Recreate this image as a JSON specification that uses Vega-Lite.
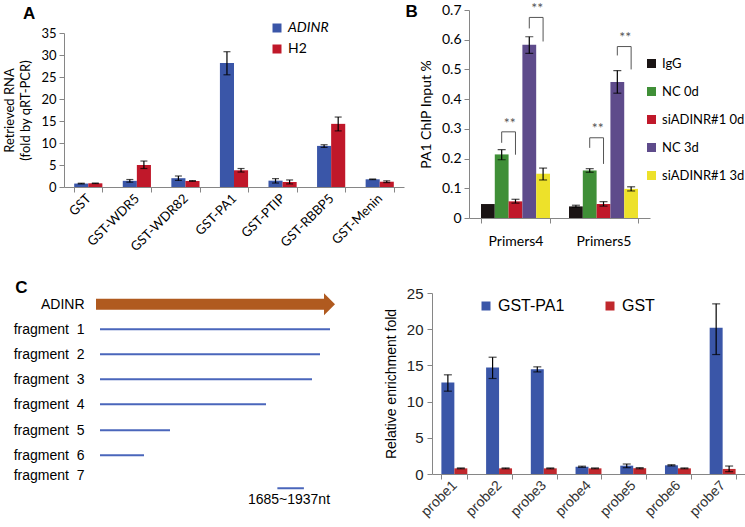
{
  "$schema": "https://vega.github.io/schema/vega-lite/v6.json",
  "padding": {"left": 3, "top": 1, "right": 0, "bottom": 0},
  "background": "white",
  "config": {
    "view": {"stroke": null},
    "axis": {"grid": false, "domainColor": "#868686", "tickColor": "#868686", "labelColor": "#000", "titleColor": "#000", "titleFontWeight": "normal", "labelOverlap": false},
    "legend": {"labelColor": "#000"}
  },
  "resolve": {"scale": {"color": "independent", "xOffset": "independent"}, "legend": {"color": "independent"}},
  "datasets": {
    "a": [
      {"cat": "GST", "series": "ADINR", "v": 0.78, "lo": 0.70, "hi": 0.86},
      {"cat": "GST", "series": "H2", "v": 0.84, "lo": 0.78, "hi": 0.90},
      {"cat": "GST-WDR5", "series": "ADINR", "v": 1.4, "lo": 1.1, "hi": 1.7},
      {"cat": "GST-WDR5", "series": "H2", "v": 5.0, "lo": 4.2, "hi": 5.9},
      {"cat": "GST-WDR82", "series": "ADINR", "v": 2.0, "lo": 1.5, "hi": 2.5},
      {"cat": "GST-WDR82", "series": "H2", "v": 1.37, "lo": 1.3, "hi": 1.45},
      {"cat": "GST-PA1", "series": "ADINR", "v": 28.2, "lo": 25.5, "hi": 30.75},
      {"cat": "GST-PA1", "series": "H2", "v": 3.8, "lo": 3.4, "hi": 4.2},
      {"cat": "GST-PTIP", "series": "ADINR", "v": 1.44, "lo": 0.9, "hi": 1.9},
      {"cat": "GST-PTIP", "series": "H2", "v": 1.14, "lo": 0.7, "hi": 1.6},
      {"cat": "GST-RBBP5", "series": "ADINR", "v": 9.34, "lo": 9.0, "hi": 9.6},
      {"cat": "GST-RBBP5", "series": "H2", "v": 14.35, "lo": 12.75, "hi": 15.9},
      {"cat": "GST-Menin", "series": "ADINR", "v": 1.75, "lo": 1.68, "hi": 1.82},
      {"cat": "GST-Menin", "series": "H2", "v": 1.2, "lo": 1.0, "hi": 1.4}
    ],
    "b": [
      {"group": "Primers4", "series": "IgG", "v": 0.047, "lo": null, "hi": null},
      {"group": "Primers4", "series": "NC 0d", "v": 0.214, "lo": 0.196, "hi": 0.230},
      {"group": "Primers4", "series": "siADINR#1 0d", "v": 0.056, "lo": 0.050, "hi": 0.063},
      {"group": "Primers4", "series": "NC 3d", "v": 0.583, "lo": 0.554, "hi": 0.610},
      {"group": "Primers4", "series": "siADINR#1 3d", "v": 0.149, "lo": 0.128, "hi": 0.168},
      {"group": "Primers5", "series": "IgG", "v": 0.039, "lo": 0.036, "hi": 0.043},
      {"group": "Primers5", "series": "NC 0d", "v": 0.160, "lo": 0.154, "hi": 0.166},
      {"group": "Primers5", "series": "siADINR#1 0d", "v": 0.047, "lo": 0.040, "hi": 0.055},
      {"group": "Primers5", "series": "NC 3d", "v": 0.458, "lo": 0.420, "hi": 0.496},
      {"group": "Primers5", "series": "siADINR#1 3d", "v": 0.098, "lo": 0.091, "hi": 0.105}
    ],
    "bbr": [
      {"br": "P4a", "o": 1, "group": "Primers4", "series": "NC 0d", "v": 0.253},
      {"br": "P4a", "o": 2, "group": "Primers4", "series": "NC 0d", "v": 0.290},
      {"br": "P4a", "o": 3, "group": "Primers4", "series": "siADINR#1 0d", "v": 0.290},
      {"br": "P4a", "o": 4, "group": "Primers4", "series": "siADINR#1 0d", "v": 0.213},
      {"br": "P4b", "o": 1, "group": "Primers4", "series": "NC 3d", "v": 0.638},
      {"br": "P4b", "o": 2, "group": "Primers4", "series": "NC 3d", "v": 0.675},
      {"br": "P4b", "o": 3, "group": "Primers4", "series": "siADINR#1 3d", "v": 0.675},
      {"br": "P4b", "o": 4, "group": "Primers4", "series": "siADINR#1 3d", "v": 0.594},
      {"br": "P5a", "o": 1, "group": "Primers5", "series": "NC 0d", "v": 0.236},
      {"br": "P5a", "o": 2, "group": "Primers5", "series": "NC 0d", "v": 0.270},
      {"br": "P5a", "o": 3, "group": "Primers5", "series": "siADINR#1 0d", "v": 0.270},
      {"br": "P5a", "o": 4, "group": "Primers5", "series": "siADINR#1 0d", "v": 0.182},
      {"br": "P5b", "o": 1, "group": "Primers5", "series": "NC 3d", "v": 0.547},
      {"br": "P5b", "o": 2, "group": "Primers5", "series": "NC 3d", "v": 0.577},
      {"br": "P5b", "o": 3, "group": "Primers5", "series": "siADINR#1 3d", "v": 0.577},
      {"br": "P5b", "o": 4, "group": "Primers5", "series": "siADINR#1 3d", "v": 0.500}
    ],
    "bst": [
      {"group": "Primers4", "series": "NC 0d", "v": 0.317, "t": "**"},
      {"group": "Primers4", "series": "NC 3d", "v": 0.705, "t": "**"},
      {"group": "Primers5", "series": "NC 0d", "v": 0.300, "t": "**"},
      {"group": "Primers5", "series": "NC 3d", "v": 0.607, "t": "**"}
    ],
    "c": [
      {"probe": "probe1", "series": "GST-PA1", "v": 12.64, "lo": 11.44, "hi": 13.7},
      {"probe": "probe1", "series": "GST", "v": 0.78, "lo": 0.72, "hi": 0.84},
      {"probe": "probe2", "series": "GST-PA1", "v": 14.7, "lo": 13.19, "hi": 16.13},
      {"probe": "probe2", "series": "GST", "v": 0.78, "lo": 0.72, "hi": 0.84},
      {"probe": "probe3", "series": "GST-PA1", "v": 14.48, "lo": 14.1, "hi": 14.8},
      {"probe": "probe3", "series": "GST", "v": 0.78, "lo": 0.72, "hi": 0.84},
      {"probe": "probe4", "series": "GST-PA1", "v": 1.0, "lo": 0.92, "hi": 1.08},
      {"probe": "probe4", "series": "GST", "v": 0.78, "lo": 0.72, "hi": 0.84},
      {"probe": "probe5", "series": "GST-PA1", "v": 1.15, "lo": 0.87, "hi": 1.38},
      {"probe": "probe5", "series": "GST", "v": 0.8, "lo": 0.72, "hi": 0.88},
      {"probe": "probe6", "series": "GST-PA1", "v": 1.2, "lo": 1.12, "hi": 1.28},
      {"probe": "probe6", "series": "GST", "v": 0.78, "lo": 0.72, "hi": 0.84},
      {"probe": "probe7", "series": "GST-PA1", "v": 20.2, "lo": 16.5, "hi": 23.5},
      {"probe": "probe7", "series": "GST", "v": 0.7, "lo": 0.32, "hi": 1.1}
    ],
    "adinr": [{"name": "ADINR", "y": 0, "start": -38, "end": 2128, "head": 2180}],
    "frag": [
      {"name": "fragment 1", "y": 1, "start": 0, "end": 2185},
      {"name": "fragment 2", "y": 2, "start": 0, "end": 2090},
      {"name": "fragment 3", "y": 3, "start": 0, "end": 2014},
      {"name": "fragment 4", "y": 4, "start": 0, "end": 1577},
      {"name": "fragment 5", "y": 5.04, "start": 0, "end": 665},
      {"name": "fragment 6", "y": 6.04, "start": 0, "end": 418},
      {"name": "fragment 7", "y": 7.36, "start": 1685, "end": 1937}
    ],
    "fraglabel": [{"t": "1685~1937nt", "x": 1795, "y": 7.84}]
  },
  "spacing": 25,
  "vconcat": [
    {
      "spacing": 1,
      "resolve": {"scale": {"color": "independent", "xOffset": "independent"}, "legend": {"color": "independent"}},
      "hconcat": [
        {
          "width": 340,
          "height": 177,
          "title": {"text": "A", "anchor": "start", "frame": "bounds", "offset": -13, "dx": 19, "fontSize": 17, "font": "Liberation Sans", "fontWeight": "bold", "color": "#000"},
          "data": {"name": "a"},
          "encoding": {
            "x": {"field": "cat", "type": "nominal", "sort": null, "title": null,
              "scale": {"paddingInner": 0.42, "paddingOuter": 0.21},
              "axis": {"labelAngle": -45, "labelAlign": "right", "labelBaseline": "middle", "labelFontSize": 13, "labelFont": "Lato", "tickBand": "extent", "tickSize": 5, "labelPadding": 4, "labelOverlap": false}},
            "xOffset": {"field": "series", "type": "nominal", "sort": ["ADINR", "H2"]}
          },
          "layer": [
            {
              "mark": {"type": "bar"},
              "encoding": {
                "y": {"field": "v", "type": "quantitative",
                  "scale": {"domain": [0, 35], "range": [177, 23], "nice": false},
                  "axis": {"values": [0, 5, 10, 15, 20, 25, 30, 35], "tickCount": 10, "labelOverlap": false, "title": ["Retrieved RNA", "(fold by qRT-PCR)"], "titleFontSize": 13, "titleFont": "Lato", "titlePadding": 8, "titleLineHeight": 16, "labelFontSize": 13, "labelFont": "Lato", "tickSize": 5, "labelPadding": 3}},
                "color": {"field": "series", "type": "nominal",
                  "scale": {"domain": ["ADINR", "H2"], "range": ["#3A56A8", "#C0182A"]},
                  "legend": {"orient": "none", "direction": "vertical", "legendX": 206, "legendY": 11, "title": null, "symbolType": "square", "symbolSize": 81, "symbolStrokeWidth": 0, "labelFontSize": 14, "labelFont": "Lato", "rowPadding": 7, "labelFontStyle": {"expr": "datum.label == 'ADINR' ? 'italic' : 'normal'"}}}
              }
            },
            {"mark": {"type": "rule", "color": "#000", "strokeWidth": 1.2}, "encoding": {"y": {"field": "lo", "type": "quantitative"}, "y2": {"field": "hi"}}},
            {"mark": {"type": "tick", "color": "#000", "size": 7, "thickness": 1.2}, "encoding": {"y": {"field": "lo", "type": "quantitative"}}},
            {"mark": {"type": "tick", "color": "#000", "size": 7, "thickness": 1.2}, "encoding": {"y": {"field": "hi", "type": "quantitative"}}}
          ]
        },
        {
          "width": 181,
          "height": 208,
          "title": {"text": "B", "anchor": "start", "frame": "bounds", "offset": -19, "dx": -14, "fontSize": 17, "font": "Liberation Sans", "fontWeight": "bold", "color": "#000"},
          "layer": [
            {
              "data": {"name": "b"},
              "mark": {"type": "bar"},
              "encoding": {
                "x": {"field": "group", "type": "nominal", "title": null,
                  "scale": {"paddingInner": 0.216, "paddingOuter": 0.136},
                  "axis": {"labelAngle": 0, "labelFontSize": 14, "labelFont": "Lato", "tickBand": "extent", "tickSize": 5, "labelPadding": 11, "labelOverlap": false}},
                "xOffset": {"field": "series", "type": "nominal", "sort": ["IgG", "NC 0d", "siADINR#1 0d", "NC 3d", "siADINR#1 3d"]},
                "y": {"field": "v", "type": "quantitative",
                  "scale": {"domain": [0, 0.7], "nice": false},
                  "axis": {"values": [0, 0.1, 0.2, 0.3, 0.4, 0.5, 0.6, 0.7], "tickCount": 10, "labelOverlap": false, "labelExpr": "datum.value == 0 ? '0' : format(datum.value, '.1f')", "title": "PA1 ChIP Input %", "titleFontSize": 14, "titleFont": "Lato", "titlePadding": 8, "labelFontSize": 14, "labelFont": "Lato", "tickSize": 5, "labelPadding": 3}},
                "color": {"field": "series", "type": "nominal",
                  "scale": {"domain": ["IgG", "NC 0d", "siADINR#1 0d", "NC 3d", "siADINR#1 3d"], "range": ["#1A1414", "#3F8F37", "#C0182A", "#5E4B8B", "#EDE12A"]},
                  "legend": {"orient": "none", "direction": "vertical", "legendX": 176, "legendY": 47, "title": null, "symbolType": "square", "symbolSize": 81, "symbolStrokeWidth": 0, "labelFontSize": 13, "labelFont": "Lato", "rowPadding": 14, "labelOffset": 4}}
              }
            },
            {"data": {"name": "b"}, "mark": {"type": "rule", "color": "#000", "strokeWidth": 1.2}, "encoding": {"x": {"field": "group", "type": "nominal"}, "xOffset": {"field": "series", "type": "nominal", "sort": ["IgG", "NC 0d", "siADINR#1 0d", "NC 3d", "siADINR#1 3d"]}, "y": {"field": "lo", "type": "quantitative"}, "y2": {"field": "hi"}}},
            {"data": {"name": "b"}, "mark": {"type": "tick", "color": "#000", "size": 8, "thickness": 1.2}, "encoding": {"x": {"field": "group", "type": "nominal"}, "xOffset": {"field": "series", "type": "nominal", "sort": ["IgG", "NC 0d", "siADINR#1 0d", "NC 3d", "siADINR#1 3d"]}, "y": {"field": "lo", "type": "quantitative"}}},
            {"data": {"name": "b"}, "mark": {"type": "tick", "color": "#000", "size": 8, "thickness": 1.2}, "encoding": {"x": {"field": "group", "type": "nominal"}, "xOffset": {"field": "series", "type": "nominal", "sort": ["IgG", "NC 0d", "siADINR#1 0d", "NC 3d", "siADINR#1 3d"]}, "y": {"field": "hi", "type": "quantitative"}}},
            {"data": {"name": "bbr"}, "mark": {"type": "line", "color": "#555", "strokeWidth": 1}, "encoding": {"x": {"field": "group", "type": "nominal"}, "xOffset": {"field": "series", "type": "nominal", "sort": ["IgG", "NC 0d", "siADINR#1 0d", "NC 3d", "siADINR#1 3d"]}, "y": {"field": "v", "type": "quantitative"}, "detail": {"field": "br"}, "order": {"field": "o"}}},
            {"data": {"name": "bst"}, "mark": {"type": "text", "color": "#555", "fontSize": 14, "font": "Lato", "dx": 8, "baseline": "middle"}, "encoding": {"x": {"field": "group", "type": "nominal"}, "xOffset": {"field": "series", "type": "nominal", "sort": ["IgG", "NC 0d", "siADINR#1 0d", "NC 3d", "siADINR#1 3d"]}, "y": {"field": "v", "type": "quantitative"}, "text": {"field": "t"}}}
          ]
        }
      ]
    },
    {
      "spacing": 48,
      "resolve": {"scale": {"color": "independent", "xOffset": "independent"}, "legend": {"color": "independent"}},
      "hconcat": [
        {
          "width": 272,
          "height": 214,
          "title": {"text": "C", "anchor": "start", "frame": "bounds", "offset": -4, "dx": 2, "fontSize": 17, "font": "Liberation Sans", "fontWeight": "bold", "color": "#000"},
          "layer": [
            {
              "data": {"name": "adinr"},
              "mark": {"type": "rule", "color": "#B05A1F", "strokeWidth": 11, "strokeCap": "butt"},
              "encoding": {
                "x": {"field": "start", "type": "quantitative", "scale": {"domain": [-342, 2242], "nice": false, "zero": false}, "axis": null},
                "x2": {"field": "end"},
                "y": {"field": "y", "type": "quantitative",
                  "scale": {"domain": [-0.45, 8.11], "reverse": true, "nice": false, "zero": false},
                  "axis": {"values": [0, 1, 2, 3, 4, 5.04, 6.04, 6.84], "tickCount": 10, "labelOverlap": false, "labelExpr": "datum.value < 0.5 ? 'ADINR' : datum.value < 1.5 ? 'fragment\u00a0\u00a01' : datum.value < 2.5 ? 'fragment\u00a0\u00a02' : datum.value < 3.5 ? 'fragment\u00a0\u00a03' : datum.value < 4.5 ? 'fragment\u00a0\u00a04' : datum.value < 5.5 ? 'fragment\u00a0\u00a05' : datum.value < 6.5 ? 'fragment\u00a0\u00a06' : datum.value < 7.5 ? 'fragment\u00a0\u00a07' : ''", "domain": false, "ticks": false, "tickSize": 0, "labelPadding": -20, "labelFontSize": 14, "labelFont": "Liberation Sans", "labelBaseline": "middle", "title": null}}
              }
            },
            {
              "data": {"name": "adinr"},
              "mark": {"type": "point", "shape": "M -0.5 -1 L 0.5 0 L -0.5 1 Z", "size": 484, "filled": true, "color": "#B05A1F", "opacity": 1},
              "encoding": {"x": {"field": "head", "type": "quantitative"}, "y": {"field": "y", "type": "quantitative"}}
            },
            {
              "data": {"name": "frag"},
              "mark": {"type": "rule", "color": "#4A66BB", "strokeWidth": 2},
              "encoding": {"x": {"field": "start", "type": "quantitative"}, "x2": {"field": "end"}, "y": {"field": "y", "type": "quantitative"}}
            },
            {
              "data": {"name": "fraglabel"},
              "mark": {"type": "text", "fontSize": 14, "font": "Liberation Sans", "color": "#000", "baseline": "middle"},
              "encoding": {"x": {"field": "x", "type": "quantitative"}, "y": {"field": "y", "type": "quantitative"}, "text": {"field": "t"}}
            }
          ]
        },
        {
          "width": 313,
          "height": 181,
          "data": {"name": "c"},
          "encoding": {
            "x": {"field": "probe", "type": "nominal", "title": null,
              "scale": {"paddingInner": 0.42, "paddingOuter": 0.21},
              "axis": {"labelAngle": -45, "labelAlign": "right", "labelBaseline": "middle", "labelFontSize": 14, "labelFont": "Liberation Sans", "labelColor": "#333", "tickBand": "extent", "tickSize": 5, "labelPadding": 4, "labelOverlap": false}},
            "xOffset": {"field": "series", "type": "nominal", "sort": ["GST-PA1", "GST"]}
          },
          "layer": [
            {
              "mark": {"type": "bar"},
              "encoding": {
                "y": {"field": "v", "type": "quantitative",
                  "scale": {"domain": [0, 25], "nice": false},
                  "axis": {"values": [0, 5, 10, 15, 20, 25], "tickCount": 10, "labelOverlap": false, "title": "Relative enrichment fold", "titleFontSize": 14, "titleFont": "Liberation Sans", "titlePadding": 8, "labelFontSize": 15, "labelFont": "Liberation Sans", "labelColor": "#222", "tickSize": 5, "labelPadding": 4}},
                "color": {"field": "series", "type": "nominal",
                  "scale": {"domain": ["GST-PA1", "GST"], "range": ["#3A56A8", "#C0282D"]},
                  "legend": {"orient": "none", "direction": "horizontal", "legendX": 46, "legendY": 5, "title": null, "symbolType": "square", "symbolSize": 81, "symbolStrokeWidth": 0, "labelFontSize": 16, "labelFont": "Liberation Sans", "columnPadding": 37, "labelOffset": 4}}
              }
            },
            {"mark": {"type": "rule", "color": "#000", "strokeWidth": 1.2}, "encoding": {"y": {"field": "lo", "type": "quantitative"}, "y2": {"field": "hi"}}},
            {"mark": {"type": "tick", "color": "#000", "size": 8, "thickness": 1.2}, "encoding": {"y": {"field": "lo", "type": "quantitative"}}},
            {"mark": {"type": "tick", "color": "#000", "size": 8, "thickness": 1.2}, "encoding": {"y": {"field": "hi", "type": "quantitative"}}}
          ]
        }
      ]
    }
  ]
}
